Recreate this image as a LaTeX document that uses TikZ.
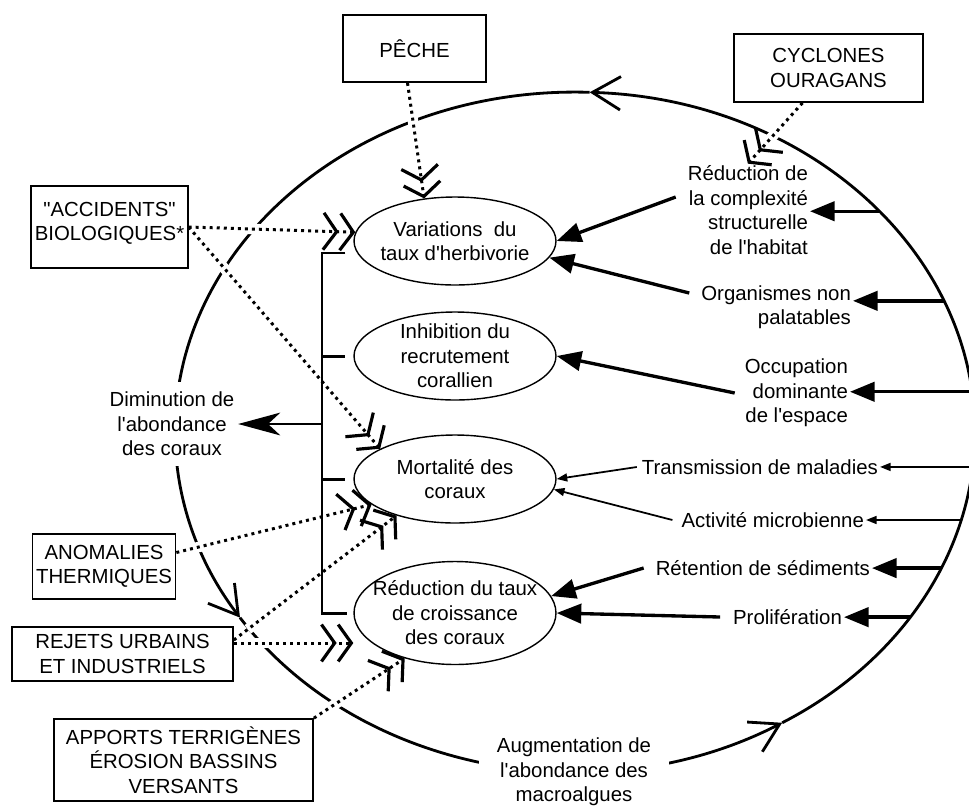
\documentclass[tikz,border=0pt]{standalone}
\usepackage{fontspec}
\newfontfamily\arialfont{Liberation Sans}
\usetikzlibrary{arrows.meta,calc,shapes}

\begin{document}
\begin{tikzpicture}[x=0.02cm,y=-0.02cm,
	every node/.style={font=\arialfont\fontsize{11.6}{13.9}\selectfont},
	>={Triangle[length=14pt,width=11pt]}]
	\tikzstyle{srcbox}=[draw, line width=1pt, align=center, inner sep=2pt]
	\tikzstyle{effect}=[draw, ellipse, line width=0.8pt, align=center,
	inner xsep=-7pt, inner ysep=-4pt, minimum width=4.04cm, minimum height=1.76cm]
	\tikzstyle{txt}=[align=right, inner sep=1pt, anchor=east]
	\tikzstyle{loopline}=[line width=1.6pt, -{Straight Barb[length=16pt,width=19pt]}]
	\tikzstyle{strong}=[line width=1.9pt, ->]
	\tikzstyle{weak}=[line width=1pt, -{Triangle[length=6pt,width=4.5pt]}]
	\tikzstyle{pressure}=[line width=1.7pt, dash pattern=on 1.7pt off 2.3pt,
	-{Straight Barb[length=7.5pt,width=21pt,line width=1.8pt] Straight Barb[length=7.5pt,width=21pt,line width=1.8pt]},
	preaction={draw=white, solid, line width=6pt, -, shorten <=10pt, shorten >=17pt}]
	
	\useasboundingbox (0,0) rectangle (969,805);
	\clip (0,0) rectangle (969,805);
	
	% big feedback loop, turning anticlockwise
	\coordinate (loopc) at (575,432);
	\draw[loopline] ($(loopc)+(0:8cm and 6.8cm)$) arc[start angle=0, end angle=87.9, x radius=8cm, y radius=6.8cm];
	\draw[loopline] ($(loopc)+(87.9:8cm and 6.8cm)$) arc[start angle=87.9, end angle=213.1, x radius=8cm, y radius=6.8cm];
	\draw[loopline] ($(loopc)+(213.1:8cm and 6.8cm)$) arc[start angle=213.1, end angle=301.2, x radius=8cm, y radius=6.8cm];
	\draw[loopline, -] ($(loopc)+(301.2:8cm and 6.8cm)$) arc[start angle=301.2, end angle=360, x radius=8cm, y radius=6.8cm];
	
	% pressures
	\node[srcbox, minimum width=2.86cm, minimum height=1.34cm] (peche) at (414.5,48.5) {PÊCHE};
	\node[srcbox, minimum width=3.78cm, minimum height=1.36cm] (cyclo) at (828.5,68) {CYCLONES\\OURAGANS};
	\node[srcbox, minimum width=3.1cm, minimum height=1.64cm, text depth=6.5pt] (accid) at (109.5,227) {"ACCIDENTS"\\BIOLOGIQUES*};
	\node[srcbox, minimum width=2.84cm, minimum height=1.3cm] (anom) at (104,566.5) {ANOMALIES\\THERMIQUES};
	\node[srcbox, minimum width=4.42cm, minimum height=1.08cm] (rejets) at (122.5,654) {REJETS URBAINS\\ET INDUSTRIELS};
	\node[srcbox, minimum width=5.18cm, minimum height=1.64cm] (apports) at (183.5,760) {APPORTS TERRIGÈNES\\ÉROSION BASSINS\\VERSANTS};
	
	% effects on the corals
	\node[effect] (var) at (455,241) {Variations~ du\\taux d'herbivorie};
	\node[effect] (inh) at (455,356) {Inhibition du\\recrutement\\corallien};
	\node[effect] (mort) at (455,479) {Mortalité des\\coraux};
	\node[effect, minimum height=2.06cm] (red) at (455,613) {Réduction du taux\\de croissance\\des coraux};
	
	% macroalgae side
	\node[txt] (redtxt) at (810,210) {Réduction de\\la complexité\\structurelle\\de l'habitat};
	\node[txt] (orgtxt) at (853,307) {Organismes non\\palatables};
	\node[txt] (occtxt) at (850,393) {Occupation\\dominante\\de l'espace};
	\node[txt] (trantxt) at (880,467) {Transmission de maladies};
	\node[txt] (acttxt) at (866,520) {Activité microbienne};
	\node[txt] (rettxt) at (872,568) {Rétention de sédiments};
	\node[txt] (proltxt) at (844,617) {Prolifération};
	
	\node[fill=white, align=center, inner xsep=2pt, inner ysep=6pt] (dimtxt) at (172,424) {Diminution de\\l'abondance\\des coraux};
	\node[fill=white, align=center, inner xsep=10pt, inner ysep=2pt] (augtxt) at (574,772) {Augmentation de\\l'abondance des\\macroalgues};
	
	\draw[pressure] ([xshift=-.14cm]peche.south) -- (var.126);
	\draw[pressure] (accid.east) -- (var.175);
	\draw[pressure] (accid.east) -- (mort.158);
	\draw[pressure] ([yshift=.28cm]anom.east) -- (mort.197);
	\draw[pressure] ([yshift=.28cm]rejets.east) -- (mort.212);
	\draw[pressure] ([yshift=.22cm]rejets.east) -- ([yshift=.22cm]rejets.east -| red.west);
	\draw[pressure] (apports.north east) -- (red.222);
	\draw[pressure] ([xshift=-.52cm]cyclo.south) -- (redtxt.north);
	
	% bracket gathering the four effects
	\coordinate (bar) at (322,424);
	\draw[line width=1.7pt] ([xshift=-.16cm,yshift=-.24cm]var.west) -| (bar) |- ([xshift=-.12cm]red.west);
	\path[line width=1.7pt]
	(bar |- inh.west) edge ([xshift=-.16cm]inh.west)
	(bar |- mort.west) edge ([xshift=-.16cm]mort.west);
	\draw[line width=1.1pt, -{Stealth[length=24pt,width=13pt,inset=7pt]}] (bar) -- (dimtxt.east);
	
	\path[strong]
	([xshift=-.2cm,yshift=.26cm]redtxt.west) edge (var.east)
	([xshift=-.2cm,yshift=.28cm]orgtxt.west) edge (var.-10)
	([xshift=-.16cm]occtxt.west) edge (inh.east)
	([xshift=-.2cm]rettxt.west) edge (red.10)
	([xshift=-.22cm]proltxt.west) edge (red.east);
	\path[weak]
	([xshift=-.06cm]trantxt.west) edge (mort.east)
	([xshift=-.14cm]acttxt.west) edge (mort.-6);
	
	% from the loop towards the algal effects
	\coordinate (r1) at ($(loopc)+(40.5:8cm and 6.8cm)$);
	\coordinate (r2) at ($(loopc)+(22.7:8cm and 6.8cm)$);
	\coordinate (r3) at ($(loopc)+(6.8:8cm and 6.8cm)$);
	\coordinate (r4) at ($(loopc)+(-5.9:8cm and 6.8cm)$);
	\coordinate (r5) at ($(loopc)+(-15:8cm and 6.8cm)$);
	\coordinate (r6) at ($(loopc)+(-23.6:8cm and 6.8cm)$);
	\coordinate (r7) at ($(loopc)+(-33:8cm and 6.8cm)$);
	\path[strong]
	(r1) edge (r1 -| redtxt.east)
	(r2) edge (r2 -| orgtxt.east)
	(r3) edge (r3 -| occtxt.east)
	(r6) edge (r6 -| rettxt.east)
	(r7) edge (r7 -| proltxt.east);
	\path[weak]
	(r4) edge (r4 -| trantxt.east)
	(r5) edge (r5 -| acttxt.east);
\end{tikzpicture}
\end{document}
